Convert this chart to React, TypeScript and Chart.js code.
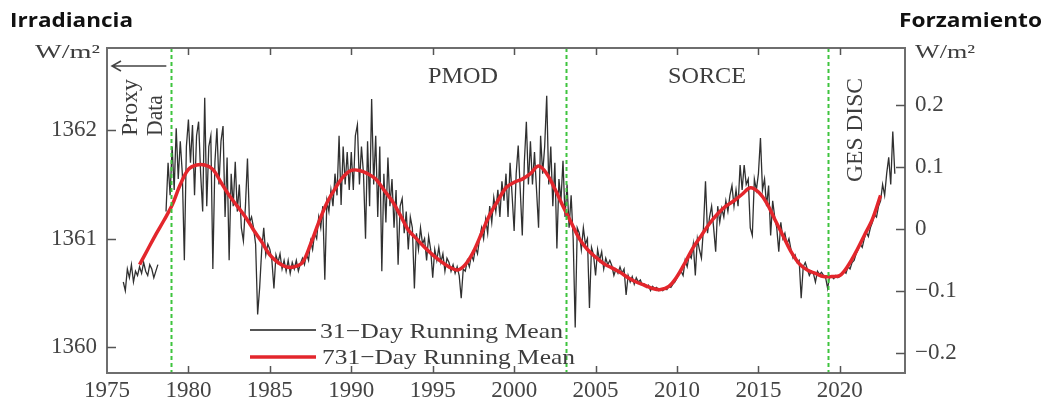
import { useEffect, useRef } from "react";
import { Chart, registerables } from "chart.js";

Chart.register(...registerables);

// ---- data ----
// 31-day running mean, one value every 1/8 year starting at 1976.0 (null = no data)
const mean31Start = 1976.0;
const mean31Step = 0.125;
const tsi31Day: (number | null)[] = [
  // 1976
  1360.60, 1360.52, 1360.72, 1360.64, 1360.76, 1360.60, 1360.70, 1360.66,
  // 1977
  1360.74, 1360.68, 1360.78, 1360.70, 1360.66, 1360.76, 1360.72, 1360.64,
  // 1978
  1360.70, 1360.76, null, null, null, 1361.25, 1361.70, 1361.40,
  // 1979
  1361.85, 1361.45, 1362.02, 1361.55, 1361.90, 1361.60, 1360.80, 1361.85,
  // 1980
  1362.10, 1361.70, 1362.05, 1361.40, 1361.95, 1362.08, 1361.60, 1361.25,
  // 1981
  1362.30, 1361.30, 1361.85, 1361.95, 1360.72, 1361.70, 1362.02, 1361.50,
  // 1982
  1361.90, 1362.04, 1361.20, 1361.75, 1360.80, 1361.60, 1361.30, 1361.71,
  // 1983
  1361.25, 1361.50, 1361.10, 1360.98, 1361.30, 1361.74, 1361.15, 1361.20,
  // 1984
  1361.10, 1360.95, 1360.30, 1360.55, 1360.90, 1361.10, 1360.85, 1360.95,
  // 1985
  1360.90, 1360.80, 1360.54, 1360.85, 1360.78, 1360.86, 1360.72, 1360.80,
  // 1986
  1360.70, 1360.80, 1360.68, 1360.78, 1360.72, 1360.80, 1360.70, 1360.77,
  // 1987
  1360.82, 1360.76, 1360.86, 1360.80, 1360.98, 1360.90, 1361.05, 1361.00,
  // 1988
  1361.20, 1361.10, 1361.30, 1360.62, 1361.35, 1361.25, 1361.45, 1361.30,
  // 1989
  1361.60, 1361.40, 1361.95, 1361.31, 1361.85, 1361.50, 1361.80, 1361.45,
  // 1990
  1361.80, 1361.45, 1361.95, 1362.05, 1361.50, 1361.85, 1361.60, 1361.00,
  // 1991
  1361.90, 1361.30, 1362.29, 1361.50, 1361.95, 1361.20, 1361.85, 1360.70,
  // 1992
  1361.60, 1361.15, 1361.75, 1361.30, 1361.55, 1361.10, 1361.45, 1360.76,
  // 1993
  1361.30, 1361.37, 1361.05, 1361.25, 1360.90, 1361.20, 1361.10, 1360.54,
  // 1994
  1361.05, 1360.90, 1361.10, 1360.95, 1361.00, 1360.80, 1361.02, 1360.90,
  // 1995
  1360.64, 1360.90, 1360.80, 1360.92, 1360.78, 1360.86, 1360.70, 1360.82,
  // 1996
  1360.78, 1360.70, 1360.76, 1360.68, 1360.74, 1360.66, 1360.45, 1360.72,
  // 1997
  1360.70, 1360.80, 1360.74, 1360.85, 1360.80, 1360.92, 1360.86, 1361.00,
  // 1998
  1361.10, 1361.00, 1361.18, 1361.05, 1361.30, 1361.15, 1361.38, 1361.25,
  // 1999
  1361.45, 1361.20, 1361.53, 1361.35, 1361.60, 1361.20, 1361.70, 1361.40,
  // 2000
  1361.07, 1361.60, 1361.86, 1361.45, 1361.03, 1361.70, 1362.08, 1361.50,
  // 2001
  1361.90, 1361.50, 1361.80, 1361.45, 1361.10, 1361.95, 1361.60, 1361.85,
  // 2002
  1362.32, 1361.50, 1361.85, 1361.30, 1361.70, 1360.91, 1361.55, 1361.35,
  // 2003
  1361.72, 1361.20, 1361.50, 1361.10, 1361.40, 1361.00, 1360.18, 1361.10,
  // 2004
  1361.05, 1360.90, 1361.10, 1360.95, 1361.00, 1360.36, 1360.92, 1360.85,
  // 2005
  1360.66, 1360.90, 1360.80, 1360.88, 1360.72, 1360.82, 1360.76, 1360.80,
  // 2006
  1360.75, 1360.66, 1360.72, 1360.68, 1360.74, 1360.68, 1360.72, 1360.48,
  // 2007
  1360.66, 1360.60, 1360.65, 1360.58, 1360.64, 1360.60, 1360.62, 1360.57,
  // 2008
  1360.58, 1360.55, 1360.57, 1360.52, 1360.56, 1360.54, 1360.55, 1360.52,
  // 2009
  1360.53, 1360.52, 1360.54, 1360.53, 1360.56, 1360.55, 1360.58, 1360.60,
  // 2010
  1360.64, 1360.68, 1360.70, 1360.66, 1360.80, 1360.74, 1360.85, 1360.82,
  // 2011
  1360.95, 1360.66, 1361.00, 1360.90, 1360.82, 1361.10, 1361.53, 1361.05,
  // 2012
  1361.20, 1361.30, 1361.10, 1360.88, 1361.30, 1361.15, 1361.28, 1361.20,
  // 2013
  1361.35, 1361.25, 1361.40, 1361.49, 1361.30, 1361.45, 1361.30, 1361.68,
  // 2014
  1361.45, 1361.68, 1361.50, 1361.55, 1361.10, 1361.03, 1361.55, 1361.45,
  // 2015
  1361.60, 1361.93, 1361.45, 1361.55, 1361.30, 1361.49, 1361.03, 1361.35,
  // 2016
  1361.20, 1361.10, 1360.88, 1361.15, 1361.00, 1361.05, 1360.95, 1361.00,
  // 2017
  1360.90, 1360.82, 1360.85, 1360.78, 1360.80, 1360.45, 1360.74, 1360.78,
  // 2018
  1360.72, 1360.66, 1360.70, 1360.68, 1360.60, 1360.70, 1360.67, 1360.69,
  // 2019
  1360.66, 1360.64, 1360.54, 1360.66, 1360.65, 1360.63, 1360.66, 1360.64,
  // 2020
  1360.65, 1360.67, 1360.70, 1360.68, 1360.74, 1360.72, 1360.78, 1360.80,
  // 2021
  1360.86, 1360.90, 1360.95, 1360.92, 1361.00, 1361.06, 1361.02, 1361.10,
  // 2022
  1361.15, 1361.22, 1361.20, 1361.30, 1361.35, 1361.50, 1361.40, 1361.60,
  // 2023
  1361.75, 1361.50, 1361.99, 1361.60,
];

// 731-day running mean, one value every half year starting at 1977.0
const mean731Start = 1977.0;
const mean731Step = 0.5;
const tsi731Day: number[] = [
  1360.76, 1360.90, 1361.04, 1361.17, 1361.31, 1361.50, 1361.64, 1361.68, 1361.68, 1361.64,
  1361.52, 1361.40, 1361.30, 1361.20, 1361.08, 1360.97, 1360.85, 1360.78, 1360.74, 1360.74,
  1360.78, 1360.95, 1361.15, 1361.33, 1361.46, 1361.57, 1361.63, 1361.63, 1361.60, 1361.55,
  1361.45, 1361.35, 1361.22, 1361.08, 1361.00, 1360.92, 1360.85, 1360.79, 1360.74, 1360.71,
  1360.76, 1360.88, 1361.05, 1361.22, 1361.35, 1361.47, 1361.52, 1361.55, 1361.60, 1361.67,
  1361.60, 1361.46, 1361.30, 1361.15, 1361.00, 1360.90, 1360.83, 1360.77, 1360.73, 1360.69,
  1360.64, 1360.60, 1360.57, 1360.54, 1360.53, 1360.56, 1360.65, 1360.78, 1360.92, 1361.03,
  1361.14, 1361.23, 1361.30, 1361.35, 1361.41, 1361.47, 1361.43, 1361.33, 1361.18, 1361.03,
  1360.88, 1360.77, 1360.71, 1360.68, 1360.65, 1360.65, 1360.66, 1360.75, 1360.88, 1361.03,
  1361.18, 1361.40,
];

const xTicks = [1975, 1980, 1985, 1990, 1995, 2000, 2005, 2010, 2015, 2020];
const irradianceTicks = [1360, 1361, 1362];
const forcingTicks = [-0.2, -0.1, 0, 0.1, 0.2];
const instrumentBreaks = [1978.95, 2003.2, 2019.3];
const seriesLabels = ["31\u2212Day Running Mean", "731\u2212Day Running Mean"];

const SERIF = "'Liberation Serif', 'DejaVu Serif', serif";
const SANS = "'Open Sans', 'Liberation Sans', sans-serif";

function drawText(
  ctx: CanvasRenderingContext2D,
  text: string,
  x: number,
  y: number,
  font: string,
  color: string,
  align: "left" | "right" | "center",
  targetWidth?: number,
  rotate?: boolean
) {
  ctx.save();
  ctx.font = font;
  ctx.fillStyle = color;
  ctx.textBaseline = "alphabetic";
  ctx.textAlign = "left";
  const w = ctx.measureText(text).width;
  const sx = targetWidth ? targetWidth / w : 1;
  const ww = w * sx;
  ctx.translate(x, y);
  if (rotate) ctx.rotate(-Math.PI / 2);
  let start = 0;
  if (align === "right") start = -ww;
  else if (align === "center") start = -ww / 2;
  ctx.translate(start, 0);
  ctx.scale(sx, 1);
  ctx.fillText(text, 0, 0);
  ctx.restore();
}

const decorPlugin = {
  id: "decor",
  afterDatasetsDraw(chart: any) {
    const { ctx, chartArea: a, scales } = chart;
    const xs = scales.x;
    const yl = scales.y;
    const yr = scales.y2;
    ctx.save();

    // instrument change lines
    ctx.strokeStyle = "#3ec43e";
    ctx.lineWidth = 2;
    ctx.setLineDash([4, 3]);
    for (const yrv of instrumentBreaks) {
      const px = Math.round(xs.getPixelForValue(yrv)) + 0.5;
      ctx.beginPath();
      ctx.moveTo(px, a.top);
      ctx.lineTo(px, a.bottom);
      ctx.stroke();
    }
    ctx.setLineDash([]);

    // frame
    ctx.strokeStyle = "#6e6e6e";
    ctx.lineWidth = 2;
    ctx.strokeRect(a.left, a.top, a.right - a.left, a.bottom - a.top);

    // tick marks (inside)
    ctx.lineWidth = 1.5;
    ctx.strokeStyle = "#555";
    ctx.beginPath();
    for (const v of xTicks) {
      if (v === xTicks[0]) continue;
      const px = Math.round(xs.getPixelForValue(v)) + 0.5;
      ctx.moveTo(px, a.bottom);
      ctx.lineTo(px, a.bottom - 7);
      ctx.moveTo(px, a.top);
      ctx.lineTo(px, a.top + 7);
    }
    for (const v of irradianceTicks) {
      const py = Math.round(yl.getPixelForValue(v)) + 0.5;
      ctx.moveTo(a.left, py);
      ctx.lineTo(a.left + 9, py);
    }
    for (const v of forcingTicks) {
      const py = Math.round(yr.getPixelForValue(v)) + 0.5;
      ctx.moveTo(a.right - 9, py);
      ctx.lineTo(a.right, py);
    }
    ctx.stroke();

    // arrow for proxy data
    const ay = a.top + 18;
    const ax1 = xs.getPixelForValue(instrumentBreaks[0]) - 5;
    const ax0 = a.left + 5;
    ctx.strokeStyle = "#444";
    ctx.lineWidth = 1.5;
    ctx.beginPath();
    ctx.moveTo(ax1, ay);
    ctx.lineTo(ax0, ay);
    ctx.moveTo(ax0 + 9, ay - 5);
    ctx.lineTo(ax0, ay);
    ctx.lineTo(ax0 + 9, ay + 5);
    ctx.stroke();

    const grey = "#3d3d3d";
    const f24 = `24px ${SERIF}`;
    drawText(ctx, "PMOD", 463, 83, f24, grey, "center", 70);
    drawText(ctx, "SORCE", 707, 83, f24, grey, "center", 78);
    drawText(ctx, "Proxy", 137, 136, f24, grey, "left", 57, true);
    drawText(ctx, "Data", 162, 136, f24, grey, "left", 41, true);
    drawText(ctx, "GES DISC", 862, 182, f24, grey, "left", 104, true);

    // legend
    ctx.lineWidth = 2;
    ctx.strokeStyle = "#555";
    ctx.beginPath();
    ctx.moveTo(250, 330);
    ctx.lineTo(316, 330);
    ctx.stroke();
    ctx.lineWidth = 3.5;
    ctx.strokeStyle = "#e3262c";
    ctx.beginPath();
    ctx.moveTo(250, 357);
    ctx.lineTo(316, 357);
    ctx.stroke();
    const f22 = `22px ${SERIF}`;
    drawText(ctx, seriesLabels[0], 320, 338, f22, grey, "left", 243);
    drawText(ctx, seriesLabels[1], 322, 364, f22, grey, "left", 253);

    ctx.restore();
  },
  afterDraw(chart: any) {
    const { ctx } = chart;
    const grey = "#3d3d3d";
    drawText(ctx, "Irradiancia", 10, 27, `bold 20px ${SANS}`, "#111", "left", 123);
    drawText(ctx, "Forzamiento", 1042, 27, `bold 20px ${SANS}`, "#111", "right", 143);
    drawText(ctx, "W/m\u00b2", 100, 58, `19px ${SERIF}`, grey, "right", 65);
    drawText(ctx, "W/m\u00b2", 915, 58, `19px ${SERIF}`, grey, "left", 60);
  },
};

export default function App() {
  const ref = useRef<HTMLCanvasElement>(null);

  useEffect(() => {
    const canvas = ref.current;
    if (!canvas) return;
    const blackPts = tsi31Day.map((v, i) => ({ x: mean31Start + i * mean31Step, y: v }));
    const redPts = tsi731Day.map((v, i) => ({ x: mean731Start + i * mean731Step, y: v }));
    const tickFont = { family: SERIF, size: 23 };
    const chart = new Chart(canvas, {
      type: "line",
      data: {
        datasets: [
          {
            label: seriesLabels[1],
            data: redPts,
            borderColor: "#e3262c",
            borderWidth: 3.5,
            pointRadius: 0,
            tension: 0.35,
            yAxisID: "y",
          },
          {
            label: seriesLabels[0],
            data: blackPts as any,
            borderColor: "rgba(25,25,25,0.9)",
            borderWidth: 1.3,
            pointRadius: 0,
            tension: 0,
            spanGaps: false,
            yAxisID: "y",
          },
        ],
      },
      options: {
        animation: false,
        responsive: false,
        maintainAspectRatio: false,
        layout: { padding: { top: 48, left: 0, right: 0, bottom: 0 } },
        plugins: { legend: { display: false }, tooltip: { enabled: false }, title: { display: false } },
        scales: {
          x: {
            type: "linear",
            position: "bottom",
            min: 1975,
            max: 2024,
            grid: { display: false, drawTicks: false },
            border: { display: false },
            afterBuildTicks: (s: any) => {
              s.ticks = xTicks.map((v) => ({ value: v }));
            },
            afterFit: (s: any) => {
              s.height = 32;
            },
            ticks: {
              font: tickFont,
              color: "#444",
              padding: 4,
              maxRotation: 0,
              autoSkip: false,
              callback: (v: any) => String(v),
            },
          },
          y: {
            type: "linear",
            position: "left",
            min: 1359.76,
            max: 1362.76,
            grid: { display: false, drawTicks: false },
            border: { display: false },
            afterBuildTicks: (s: any) => {
              s.ticks = irradianceTicks.map((v) => ({ value: v }));
            },
            afterFit: (s: any) => {
              s.width = 107;
            },
            ticks: { font: tickFont, color: "#444", padding: 10, callback: (v: any) => String(v) },
          },
          y2: {
            type: "linear",
            position: "right",
            min: -0.232,
            max: 0.292,
            grid: { display: false, drawTicks: false },
            border: { display: false },
            afterBuildTicks: (s: any) => {
              s.ticks = forcingTicks.map((v) => ({ value: v }));
            },
            afterFit: (s: any) => {
              s.width = 142;
            },
            ticks: {
              font: tickFont,
              color: "#444",
              padding: 10,
              callback: (v: any) => {
                const n = Number(v);
                if (Math.abs(n) < 1e-9) return "0";
                const s = Math.abs(n).toFixed(1);
                return n < 0 ? "\u2212" + s : s;
              },
            },
          },
        },
      },
      plugins: [decorPlugin],
    });
    return () => chart.destroy();
  }, []);

  return (
    <div style={{ position: "fixed", left: 0, top: 0, width: 1047, height: 405, background: "#fff" }}>
      <canvas ref={ref} width={1047} height={405} style={{ display: "block", width: 1047, height: 405 }} />
    </div>
  );
}
